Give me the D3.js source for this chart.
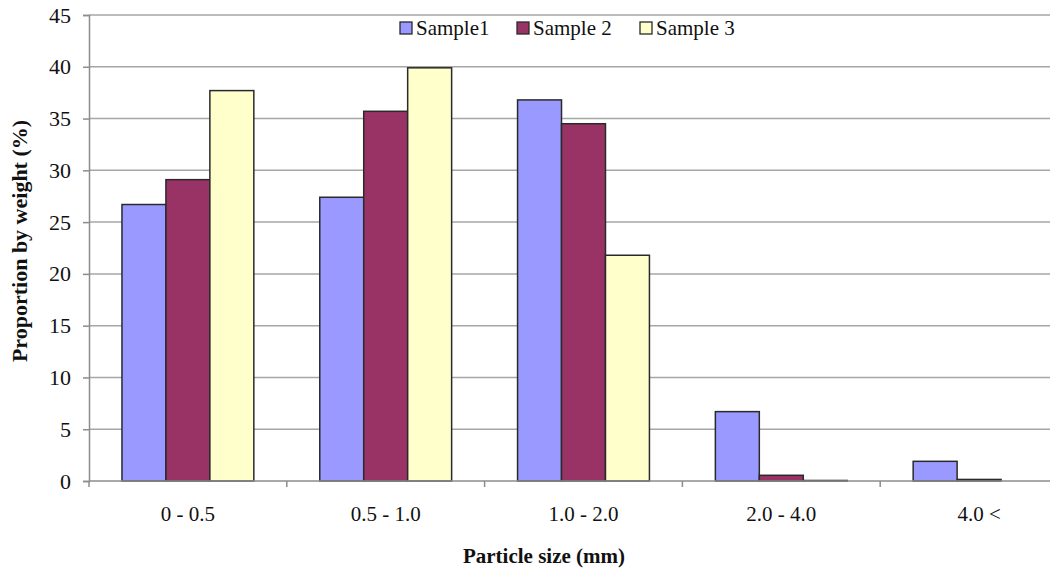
<!DOCTYPE html>
<html>
<head>
<meta charset="utf-8">
<script src="https://cdn.jsdelivr.net/npm/d3@7"></script>
<style>
  html, body { margin: 0; padding: 0; background: #fff; overflow: hidden; }
  svg { display: block; }
  svg text { font-family: "Liberation Serif", "DejaVu Serif", serif; }
</style>
</head>
<body>
<svg id="chart" width="1050" height="569"></svg>
<script>
// Particle size classes (mm)
const categories = ["0 - 0.5", "0.5 - 1.0", "1.0 - 2.0", "2.0 - 4.0", "4.0 <"];
const seriesNames = ["Sample1", "Sample 2", "Sample 3"];
const sample1 = [26.7, 27.4, 36.8, 6.7, 1.9];
const sample2 = [29.1, 35.7, 34.5, 0.55, 0.15];
const sample3 = [37.7, 39.9, 21.8, 0.05, 0.0];
const yTicks = [0, 5, 10, 15, 20, 25, 30, 35, 40, 45];
const colors = ["#9999ff", "#993366", "#ffffcc"];

const series = [sample1, sample2, sample3];

const svg = d3.select("#chart");
const plotLeft = 89, plotTop = 15, plotBottom = 481;
// the plot runs past the right edge of the page, as five equal bands
const bandW = 197.8;
const plotRight = plotLeft + bandW * categories.length;

const x = d3.scaleBand().domain(categories).range([plotLeft, plotRight]).paddingInner(0).paddingOuter(0);
// three touching bars per band, gap of 1.5 bar widths between groups
const inner = d3.scaleBand().domain(seriesNames).range([0, x.bandwidth()])
  .paddingInner(0).paddingOuter(0.75);
const y = d3.scaleLinear().domain([0, 45]).range([plotBottom, plotTop]);

// gridlines
svg.append("g")
  .selectAll("line")
  .data(yTicks.filter(d => d > 0))
  .join("line")
  .attr("x1", plotLeft).attr("x2", 1050)
  .attr("y1", d => y(d)).attr("y2", d => y(d))
  .attr("stroke", "#a6a6a6").attr("stroke-width", 1.5);

// bars
const groups = svg.append("g")
  .selectAll("g")
  .data(series)
  .join("g")
  .attr("fill", (d, i) => colors[i]);

groups.selectAll("rect")
  .data((vals, si) => vals.map((v, ci) => ({ v, ci, si })))
  .join("rect")
  .attr("x", d => x(categories[d.ci]) + inner(seriesNames[d.si]))
  .attr("width", inner.bandwidth())
  .attr("y", d => y(d.v))
  .attr("height", d => y(0) - y(d.v))
  .attr("stroke", "#2a2a2a").attr("stroke-width", 1.5);

// y axis
const yAxis = d3.axisLeft(y).tickValues(yTicks).tickSize(6).tickPadding(12);
const yg = svg.append("g").attr("transform", `translate(${plotLeft},0)`).call(yAxis);
yg.attr("font-family", null).attr("font-size", null);
yg.select(".domain").attr("stroke", "#8c8c8c").attr("stroke-width", 1.5);
yg.selectAll(".tick line").attr("stroke", "#8c8c8c").attr("stroke-width", 1.5);
yg.selectAll(".tick text").style("font-size", "22px").attr("fill", "#111");

// x axis with ticks at band boundaries
const xg = svg.append("g").attr("transform", `translate(0,${plotBottom})`);
xg.append("line").attr("x1", plotLeft).attr("x2", 1050).attr("y1", 0).attr("y2", 0)
  .attr("stroke", "#8c8c8c").attr("stroke-width", 1.5);
xg.selectAll("line.tk")
  .data(d3.range(categories.length + 1))
  .join("line").attr("class", "tk")
  .attr("x1", i => plotLeft + i * bandW).attr("x2", i => plotLeft + i * bandW)
  .attr("y1", 0).attr("y2", 6)
  .attr("stroke", "#8c8c8c").attr("stroke-width", 1.5);
xg.selectAll("text")
  .data(categories)
  .join("text")
  .attr("x", d => x(d) + x.bandwidth() / 2)
  .attr("y", 40)
  .attr("text-anchor", "middle")
  .style("font-size", "21px").attr("fill", "#111")
  .text(d => d);

// axis titles
svg.append("text")
  .attr("x", 544).attr("y", 563)
  .attr("text-anchor", "middle")
  .style("font-size", "21px").style("font-weight", "bold").attr("fill", "#111")
  .text("Particle size (mm)");

svg.append("text")
  .attr("transform", "translate(27,241) rotate(-90)")
  .attr("text-anchor", "middle")
  .style("font-size", "22px").style("font-weight", "bold").attr("fill", "#111")
  .text("Proportion by weight (%)");

// legend
const legendX = [400, 517, 640];
const leg = svg.append("g").selectAll("g")
  .data(seriesNames)
  .join("g")
  .attr("transform", (d, i) => `translate(${legendX[i]},22)`);
leg.append("rect")
  .attr("width", 12).attr("height", 12)
  .attr("fill", (d, i) => colors[i])
  .attr("stroke", "#2a2a2a").attr("stroke-width", 1.3);
leg.append("text")
  .attr("x", 16).attr("y", 13)
  .style("font-size", "21px").attr("fill", "#111")
  .text(d => d);
</script>
</body>
</html>
